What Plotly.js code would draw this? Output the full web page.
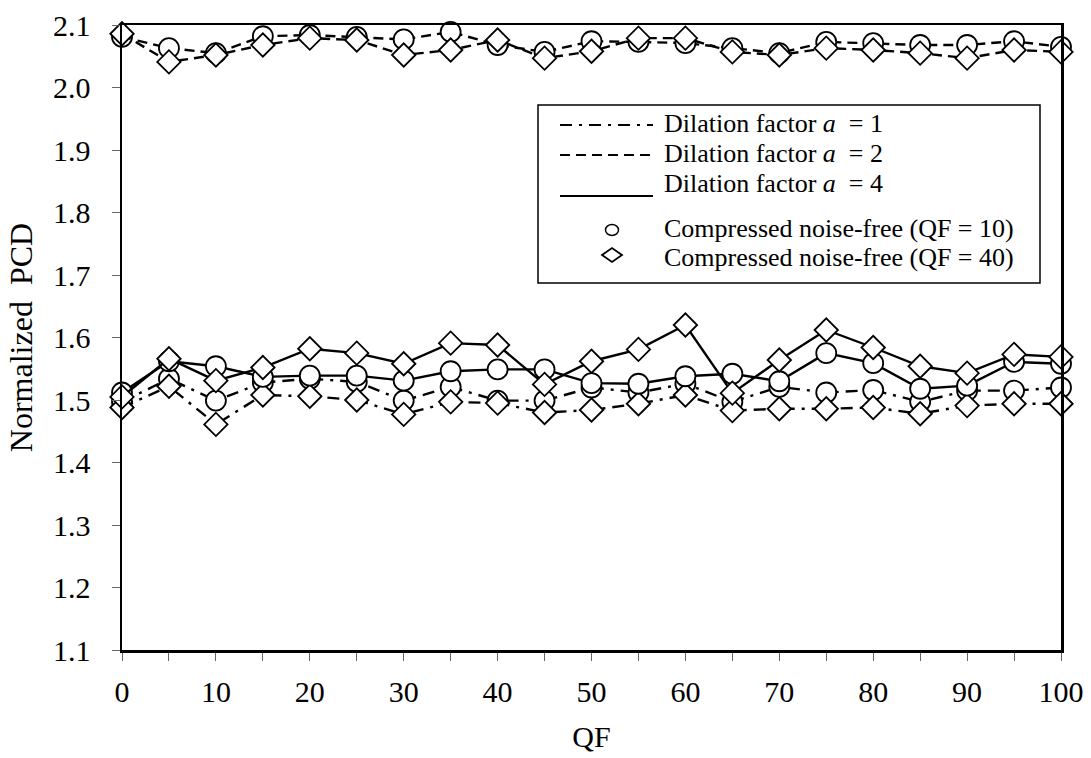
<!DOCTYPE html>
<html>
<head>
<meta charset="utf-8">
<script src="https://cdn.plot.ly/plotly-3.0.1.min.js"></script>
<style>html,body{margin:0;padding:0;background:#fff;}#chart{width:1091px;height:758px;}</style>
</head>
<body>
<div id="chart"></div>
<script>
// ---------------- data ----------------
const qf = [0,5,10,15,20,25,30,35,40,45,50,55,60,65,70,75,80,85,90,95,100];

// dilation factor a = 1 (dash-dot)
const a1_qf10 = [1.497,1.534,1.499,1.528,1.534,1.529,1.499,1.521,1.499,1.499,1.520,1.512,1.526,1.497,1.521,1.512,1.516,1.497,1.515,1.515,1.520];
const a1_qf40 = [1.488,1.522,1.461,1.508,1.506,1.500,1.477,1.497,1.495,1.480,1.484,1.494,1.508,1.483,1.486,1.486,1.488,1.478,1.491,1.494,1.494];

// dilation factor a = 2 (dashed)
const a2_qf10 = [2.081,2.063,2.055,2.082,2.084,2.081,2.077,2.089,2.068,2.057,2.074,2.073,2.071,2.063,2.055,2.073,2.071,2.068,2.068,2.074,2.065];
const a2_qf40 = [2.086,2.041,2.052,2.068,2.079,2.076,2.052,2.060,2.076,2.047,2.058,2.079,2.079,2.057,2.052,2.063,2.060,2.055,2.047,2.060,2.057];

// dilation factor a = 4 (solid)
const a4_qf10 = [1.512,1.562,1.554,1.537,1.539,1.539,1.531,1.546,1.549,1.549,1.527,1.526,1.538,1.542,1.530,1.575,1.559,1.518,1.523,1.561,1.558];
const a4_qf40 = [1.505,1.566,1.531,1.552,1.582,1.575,1.558,1.591,1.588,1.525,1.562,1.581,1.620,1.511,1.564,1.612,1.584,1.554,1.543,1.573,1.569];

const xTickVals = [0,5,10,15,20,25,30,35,40,45,50,55,60,65,70,75,80,85,90,95,100];
const xTickText = ['0','','10','','20','','30','','40','','50','','60','','70','','80','','90','','100'];
const yTickVals = [1.1,1.2,1.3,1.4,1.5,1.6,1.7,1.8,1.9,2.0,2.1];

const legendLabels = [
  'Dilation factor <i>a</i>  = 1',
  'Dilation factor <i>a</i>  = 2',
  'Dilation factor <i>a</i>  = 4',
  'Compressed noise-free (QF = 10)',
  'Compressed noise-free (QF = 40)'
];

// ---------------- styles ----------------
const FONT = '"Liberation Serif", "Times New Roman", serif';
const DASHDOT = '12px,7px,3px,7px';
const DASHED = '10px,6px';
const W = 1091, H = 758;
const M = {l:122, r:30, t:25, b:108};
const PW = W - M.l - M.r, PH = H - M.t - M.b;
const px2x = p => (p - M.l) / PW;
const px2y = p => (H - M.b - p) / PH;

const circleMarker = {symbol:'circle', size:20, color:'white', line:{color:'black', width:1.8}};
const diamondMarker = {symbol:'diamond', size:18, color:'white', line:{color:'black', width:1.8}};

function tr(y, dash, marker) {
  return {
    x: qf, y: y, type:'scatter', mode:'lines+markers',
    line:{color:'black', width:2.4, dash:dash},
    marker: marker, cliponaxis:false, showlegend:false, hoverinfo:'skip'
  };
}

const data = [
  tr(a1_qf10, DASHDOT, circleMarker),
  tr(a1_qf40, DASHDOT, diamondMarker),
  tr(a2_qf10, DASHED, circleMarker),
  tr(a2_qf40, DASHED, diamondMarker),
  tr(a4_qf10, 'solid', circleMarker),
  tr(a4_qf40, 'solid', diamondMarker)
];

// ---------------- custom legend ----------------
const shapes = [];
const annotations = [];
const LFONT = {family:FONT, size:26, color:'black'};
shapes.push({type:'rect', xref:'paper', yref:'paper',
  x0:px2x(538), x1:px2x(1040), y0:px2y(283), y1:px2y(105),
  line:{color:'black', width:1.5}, fillcolor:'white', layer:'above'});
const lineRows = [{y:125, dash:DASHDOT, ty:124},{y:155, dash:DASHED, ty:153},{y:196, dash:'solid', ty:184}];
lineRows.forEach((r, i) => {
  shapes.push({type:'line', xref:'paper', yref:'paper',
    x0:px2x(560), x1:px2x(653), y0:px2y(r.y), y1:px2y(r.y),
    line:{color:'black', width:2.2, dash:r.dash}, layer:'above'});
  annotations.push({xref:'paper', yref:'paper', x:px2x(663), y:px2y(r.ty),
    xanchor:'left', yanchor:'middle', showarrow:false, text:legendLabels[i], font:LFONT, borderpad:0});
});
// circle symbol
shapes.push({type:'circle', xref:'paper', yref:'paper',
  x0:px2x(605.5), x1:px2x(618.5), y0:px2y(235.5), y1:px2y(224.5),
  line:{color:'black', width:1.5}, fillcolor:'white', layer:'above'});
// diamond symbol
const dx = [602,612,622,612], dy = [255,248,255,262];
shapes.push({type:'path', xref:'paper', yref:'paper',
  path:'M'+px2x(dx[0])+','+px2y(dy[0])+' L'+px2x(dx[1])+','+px2y(dy[1])+' L'+px2x(dx[2])+','+px2y(dy[2])+' L'+px2x(dx[3])+','+px2y(dy[3])+' Z',
  line:{color:'black', width:1.8}, fillcolor:'white', layer:'above'});
annotations.push({xref:'paper', yref:'paper', x:px2x(663), y:px2y(228),
  xanchor:'left', yanchor:'middle', showarrow:false, text:legendLabels[3], font:LFONT, borderpad:0});
annotations.push({xref:'paper', yref:'paper', x:px2x(663), y:px2y(257),
  xanchor:'left', yanchor:'middle', showarrow:false, text:legendLabels[4], font:LFONT, borderpad:0});

const layout = {
  width: W, height: H,
  margin: M,
  paper_bgcolor:'white', plot_bgcolor:'white',
  showlegend:false,
  font:{family:FONT, color:'black', size:30},
  xaxis:{
    range:[0,100], tickmode:'array', tickvals:xTickVals, ticktext:xTickText,
    ticks:'outside', ticklen:8, tickwidth:1, tickcolor:'#666',
    showline:true, linecolor:'black', linewidth:2.5, mirror:true,
    showgrid:false, zeroline:false,
    tickfont:{family:FONT, size:30, color:'black'},
    ticklabelstandoff:5,
    title:{text:'QF', font:{family:FONT, size:30, color:'black'}, standoff:20}
  },
  yaxis:{
    range:[1.1,2.1], tickmode:'array', tickvals:yTickVals, tickformat:'.1f',
    ticks:'outside', ticklen:8, tickwidth:1, tickcolor:'#666',
    showline:true, linecolor:'black', linewidth:2.5, mirror:true,
    showgrid:false, zeroline:false,
    tickfont:{family:FONT, size:30, color:'black'},
    ticklabelstandoff:15,
    title:{text:'Normalized\u00a0\u00a0PCD', font:{family:FONT, size:32, color:'black'}, standoff:11}
  },
  shapes: shapes,
  annotations: annotations
};

Plotly.newPlot('chart', data, layout, {staticPlot:true, displayModeBar:false});
</script>
</body>
</html>
